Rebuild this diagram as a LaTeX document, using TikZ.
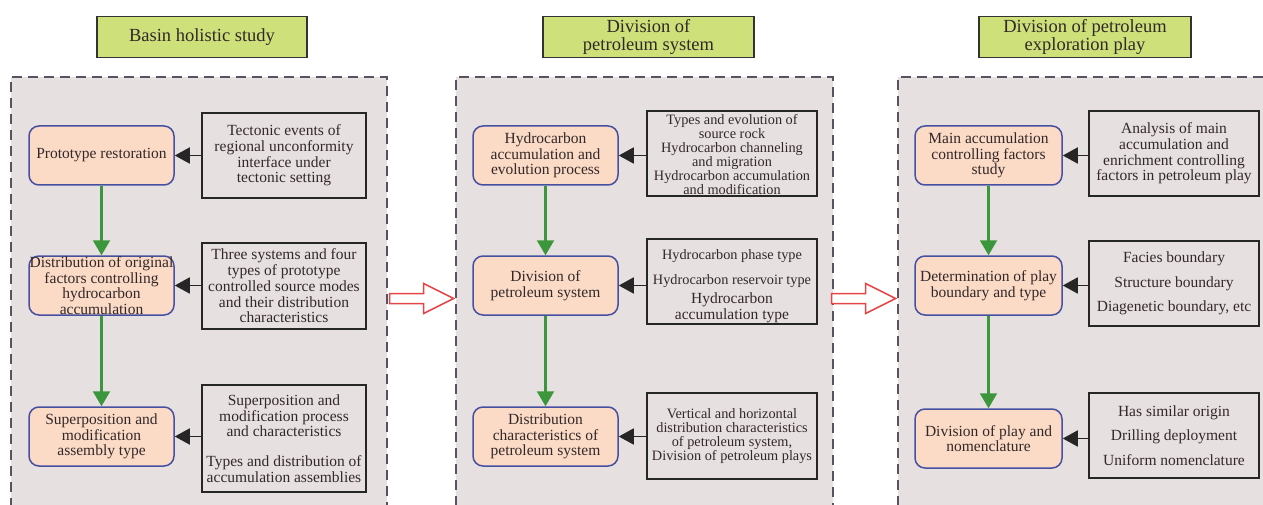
\documentclass[tikz,border=0pt]{standalone}
\usepackage{fontspec}
\setmainfont{Liberation Serif}
\usetikzlibrary{arrows.meta,calc}
\definecolor{panelbg}{RGB}{231,224,225}
\definecolor{paneledge}{RGB}{88,82,98}
\definecolor{titlefill}{RGB}{206,224,122}
\definecolor{peach}{RGB}{251,218,198}
\definecolor{blueedge}{RGB}{70,80,160}
\definecolor{greenarr}{RGB}{60,150,60}
\definecolor{redarr}{RGB}{228,70,70}
\definecolor{txt}{RGB}{50,40,40}
\begin{document}
\begin{tikzpicture}[x=1pt,y=-1pt,
  every node/.style={text=txt, inner sep=0pt, align=center},
  panel/.style={draw=paneledge, fill=panelbg, line width=2.8pt, dash pattern=on 10pt off 6pt},
  titlebox/.style={draw=black!80, fill=titlefill, line width=1.2pt, font=\fontsize{18.5}{18}\selectfont},
  stepbox/.style={draw=blueedge, fill=peach, line width=1.5pt, rounded corners=10pt, font=\fontsize{15.5}{15.5}\selectfont},
  infobox/.style={draw=black!85, line width=1.5pt, font=\fontsize{15.5}{15.7}\selectfont},
  small/.style={font=\fontsize{14.3}{14}\selectfont},
  blackarrow/.style={draw=black!85, line width=1.8pt, -{Triangle[length=15pt,width=16pt]}},
  greenarrow/.style={draw=greenarr, line width=2.2pt, -{Triangle[length=15pt,width=17pt]}},
  hollow/.style={draw=redarr, fill=white, line width=1.5pt, line join=miter}
]
\useasboundingbox (0,0) rectangle (1263,505);
\begin{scope}
\clip (0,0) rectangle (1263,505);
\node[panel, minimum width=376pt, minimum height=443pt] (p1) at (199,298.5) {};
\node[panel, minimum width=377pt, minimum height=443pt] (p2) at (644.5,298.5) {};
\node[panel, minimum width=377pt, minimum height=443pt] (p3) at (1086.5,298.5) {};
\end{scope}

% titles
\node[titlebox, minimum width=210pt, minimum height=41pt] (t1) at (202,37) {Basin holistic study};
\node[titlebox, minimum width=211pt, minimum height=41pt] (t2) at (648.5,37) {Division of\\petroleum system};
\node[titlebox, minimum width=212pt, minimum height=41pt] (t3) at (1085,37) {Division of petroleum\\exploration play};

% panel 1
\node[stepbox, minimum width=145pt, minimum height=59pt] (a1) at (101.5,155.5) {Prototype restoration};
\node[stepbox, minimum width=145pt, minimum height=59pt] (a2) at (101.5,285.5) {Distribution of original\\factors controlling\\hydrocarbon\\accumulation};
\node[stepbox, minimum width=145pt, minimum height=59pt] (a3) at (101.5,436.5) {Superposition and\\modification\\assembly type};
\node[infobox, minimum width=164pt, minimum height=85pt] (ra1) at (284,155.5) {Tectonic events of\\regional unconformity\\interface under\\tectonic setting};
\node[infobox, minimum width=164pt, minimum height=86pt] (ra2) at (284,286) {Three systems and four\\types of prototype\\controlled source modes\\and their distribution\\characteristics};
\node[infobox, minimum width=164pt, minimum height=107pt] (ra3) at (284,438.5) {Superposition and\\modification process\\and characteristics\\[14pt]Types and distribution of\\accumulation assemblies};

% panel 2
\node[stepbox, minimum width=145pt, minimum height=59pt] (b1) at (545.5,155.5) {Hydrocarbon\\accumulation and\\evolution process};
\node[stepbox, minimum width=145pt, minimum height=59pt] (b2) at (545.5,285.5) {Division of\\petroleum system};
\node[stepbox, minimum width=145pt, minimum height=59pt] (b3) at (545.5,436.5) {Distribution\\characteristics of\\petroleum system};
\node[infobox, small, minimum width=170pt, minimum height=85pt] (rb1) at (732,153.5) {\raisebox{-3pt}[\height][\depth]{\begin{tabular}{@{}c@{}}Types and evolution of\\source rock\\Hydrocarbon channeling\\and migration\\Hydrocarbon accumulation\\and modification\end{tabular}}};
\node[infobox, minimum width=170pt, minimum height=85pt] (rb2) at (732,281.5) {\raisebox{-5pt}[\height][\depth]{\begin{tabular}{@{}c@{}}{\fontsize{14.3}{14}\selectfont Hydrocarbon phase type}\\[9pt]{\fontsize{14.3}{14}\selectfont Hydrocarbon reservoir type}\\[4pt]Hydrocarbon\\accumulation type\end{tabular}}};
\node[infobox, small, minimum width=170pt, minimum height=86pt] (rb3) at (732,436) {Vertical and horizontal\\distribution characteristics\\of petroleum system,\\Division of petroleum plays};

% panel 3
\node[stepbox, minimum width=147pt, minimum height=59pt] (c1) at (988.5,155.5) {Main accumulation\\controlling factors\\study};
\node[stepbox, minimum width=147pt, minimum height=59pt] (c2) at (988.5,285.5) {Determination of play\\boundary and type};
\node[stepbox, minimum width=147pt, minimum height=59pt] (c3) at (988.5,438.5) {Division of play and\\nomenclature};
\node[infobox, minimum width=170pt, minimum height=85pt] (rc1) at (1174,153.5) {Analysis of main\\accumulation and\\enrichment controlling\\factors in petroleum play};
\node[infobox, minimum width=170pt, minimum height=85pt] (rc2) at (1174,283.5) {Facies boundary\\[9pt]Structure boundary\\[9pt]Diagenetic boundary, etc};
\node[infobox, minimum width=170pt, minimum height=85pt] (rc3) at (1174,435.5) {Has similar origin\\[9pt]Drilling deployment\\[9pt]Uniform nomenclature};

% black arrows
\foreach \r/\b in {ra1/a1,ra2/a2,ra3/a3,rb1/b1,rb2/b2,rb3/b3,rc1/c1,rc2/c2,rc3/c3}
  \draw[blackarrow] (\r.west |- \b.east) -- (\b.east);

% green arrows
\foreach \u/\d in {a1/a2,a2/a3,b1/b2,b2/b3,c1/c2,c2/c3}
  \draw[greenarrow] (\u.south) -- (\d.north);

% hollow arrows between panels
\coordinate (h1) at ([xshift=-1pt]p2.west |- p1.east);
\coordinate (h2) at ([xshift=-1pt]p3.west |- p2.east);
\foreach \h in {h1,h2}
  \draw[hollow] (\h) -- ++(-30,-15) -- ++(0,10) -- ++(-34,0) -- ++(0,10) -- ++(34,0) -- ++(0,10) -- cycle;
\end{tikzpicture}
\end{document}
